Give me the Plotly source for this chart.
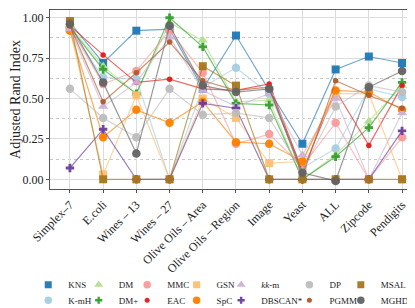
import plotly.graph_objects as go

categories = ["Simplex–7", "E.coli", "Wines – 13", "Wines – 27", "Olive Oils – Area",
              "Olive Oils – Region", "Image", "Yeast", "ALL", "Zipcode", "Pendigits"]

KNS     = [0.97, 0.72, 0.92, 0.93, 0.56, 0.89, 0.55, 0.22, 0.68, 0.76, 0.72]
K_mH    = [0.93, 0.63, 0.62, 0.00, 0.57, 0.69, 0.53, 0.07, 0.19, 0.56, 0.51]
DM      = [0.95, 0.70, 0.53, 0.97, 0.86, 0.48, 0.49, 0.00, 0.15, 0.36, 0.58]
DM_plus = [0.94, 0.68, 0.53, 1.00, 0.82, 0.47, 0.46, 0.00, 0.14, 0.32, 0.60]
MMC     = [0.94, 0.59, 0.67, 0.92, 0.66, 0.22, 0.28, 0.08, 0.35, 0.00, 0.26]
EAC     = [0.95, 0.77, 0.60, 0.62, 0.56, 0.55, 0.59, 0.05, 0.55, 0.21, 0.58]
GSN     = [0.93, 0.03, 0.52, 0.00, 0.50, 0.38, 0.10, 0.11, 0.53, 0.53, 0.00]
SpC     = [0.92, 0.26, 0.43, 0.35, 0.48, 0.23, 0.22, 0.11, 0.55, 0.54, 0.43]
kk_m    = [0.93, 0.45, 0.60, 0.88, 0.55, 0.45, 0.53, 0.15, 0.50, 0.00, 0.41]
DBSCAN  = [0.07, 0.31, 0.00, 0.00, 0.47, 0.44, 0.00, 0.00, 0.00, 0.00, 0.30]
DP      = [0.56, 0.38, 0.26, 0.56, 0.40, 0.41, 0.38, 0.05, 0.45, 0.58, 0.54]
PGMM    = [0.95, 0.48, 0.66, 0.85, 0.61, 0.55, 0.57, 0.02, 0.61, 0.52, 0.44]
MSAL    = [0.98, 0.00, 0.00, 0.00, 0.70, 0.58, 0.00, 0.00, 0.00, 0.00, 0.00]
MGHD    = [0.96, 0.60, 0.16, 0.95, 0.58, 0.54, 0.56, 0.04, -0.01, 0.57, 0.67]

y_ticks = [0.0, 0.25, 0.5, 0.75, 1.0]
y_tick_labels = ["0.00", "0.25", "0.50", "0.75", "1.00"]

# name, values, color, symbol, size, legend size, legend column, legend row
series = [
    ("KNS", KNS, "#1f78b4", "square", 8, 7, 0, 0),
    ("K-mH", K_mH, "#a6cee3", "circle", 8.5, 7.5, 0, 1),
    ("DM", DM, "#b2df8a", "triangle-up", 9, 8, 1, 0),
    ("DM+", DM_plus, "#33a02c", "cross", 7, 6, 1, 1),
    ("MMC", MMC, "#fb9a99", "circle", 8.5, 7.5, 2, 0),
    ("EAC", EAC, "#e31a1c", "circle", 5.5, 5, 2, 1),
    ("GSN", GSN, "#fdbf6f", "square", 8, 7, 3, 0),
    ("SpC", SpC, "#ff7f00", "circle", 8.5, 7.5, 3, 1),
    ("<i>kk</i>-m", kk_m, "#cab2d6", "triangle-up", 9, 8, 4, 0),
    ("DBSCAN*", DBSCAN, "#6a3d9a", "cross", 7, 6, 4, 1),
    ("DP", DP, "#bdbdbd", "circle", 8.5, 7.5, 5, 0),
    ("PGMM", PGMM, "#b15928", "circle", 5.5, 5, 5, 1),
    ("MSAL", MSAL, "#a6761d", "square", 8, 7, 6, 0),
    ("MGHD", MGHD, "#636363", "circle", 8.5, 7.5, 6, 1),
]

def rgba(hexc, a):
    h = hexc.lstrip("#")
    r, g, b = int(h[0:2], 16), int(h[2:4], 16), int(h[4:6], 16)
    return f"rgba({r},{g},{b},{a})"

W, H = 415, 308
L, R, T, B = 38, 6, 1, 122
pw, ph = W - L - R, H - T - B

def px_to_paper_x(px):
    return (px - L) / pw

def py_to_paper_y(py):
    return (T + ph - py) / ph

text_x = [66, 117, 166, 216, 261, 330, 382]
row_y = [285, 301]

fig = go.Figure()
for name, vals, col, sym, size, lsize, lc, lr in series:
    fig.add_trace(go.Scatter(
        x=categories, y=vals, name=name, mode="lines+markers",
        line=dict(color=rgba(col, 0.65), width=1.2),
        marker=dict(color=rgba(col, 0.95), symbol=sym, size=size, line=dict(width=0)),
        showlegend=False,
    ))

# legend-only entries (one small legend per entry so the columns can match)
layout_legends = {}
for i, (name, vals, col, sym, size, lsize, lc, lr) in enumerate(series):
    lname = "legend" if i == 0 else f"legend{i+1}"
    fig.add_trace(go.Scatter(
        x=[None], y=[None], name=name, mode="markers",
        marker=dict(color=rgba(col, 0.95), symbol=sym, size=lsize, line=dict(width=0)),
        legend=lname, showlegend=True, hoverinfo="skip",
    ))
    layout_legends[lname] = dict(
        x=px_to_paper_x(text_x[lc] - 50), xanchor="left",
        y=py_to_paper_y(row_y[lr]), yanchor="middle",
        bgcolor="rgba(0,0,0,0)", borderwidth=0,
        font=dict(family="Liberation Serif", size=9, color="#222222"),
        itemwidth=30,
    )

fig.update_layout(
    width=W, height=H,
    margin=dict(l=L, r=R, t=T, b=B),
    plot_bgcolor="white", paper_bgcolor="white",
    font=dict(family="Liberation Serif", size=12, color="#222222"),
    showlegend=True,
    **layout_legends,
)

fig.update_xaxes(
    type="category", range=[-0.6, 10.45], tickangle=-45,
    showgrid=True, gridcolor="#dcdcdc", gridwidth=1,
    showline=True, linecolor="#555555", linewidth=1, mirror=True,
    ticks="outside", ticklen=3, tickcolor="#555555",
    tickfont=dict(family="Liberation Serif", size=12, color="#222222"),
    zeroline=False,
)
fig.update_yaxes(
    range=[-0.06, 1.048],
    tickvals=y_ticks, ticktext=y_tick_labels,
    showgrid=True, gridcolor="#dcdcdc", gridwidth=1,
    minor=dict(tickvals=[0.125, 0.375, 0.625, 0.875], showgrid=True,
               gridcolor="#c8c8c8", griddash="dot", gridwidth=1, ticks=""),
    showline=True, linecolor="#555555", linewidth=1, mirror=True,
    ticks="outside", ticklen=3, tickcolor="#555555",
    tickfont=dict(family="Liberation Serif", size=12, color="#222222"),
    title=dict(text="Adjusted Rand Index", font=dict(family="Liberation Serif", size=14, color="#222222"), standoff=4),
    zeroline=False,
)

fig.write_html("out.html")
